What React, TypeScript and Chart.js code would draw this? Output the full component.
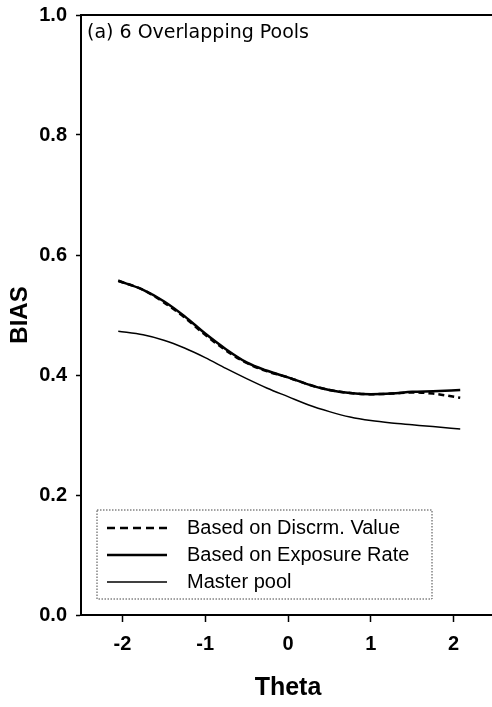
import React, { useEffect, useRef } from "react";
import { Chart, registerables } from "chart.js";

Chart.register(...registerables);

const theta = [-2.05, -1.75, -1.5, -1.25, -1, -0.75, -0.5, -0.25, 0, 0.25, 0.5, 0.75, 1, 1.25, 1.5, 1.75, 2.08];
const discrimBias = [0.557, 0.542, 0.521, 0.496, 0.467, 0.441, 0.42, 0.406, 0.396, 0.384, 0.375, 0.37, 0.368, 0.369, 0.371, 0.369, 0.362];
const exposureBias = [0.557, 0.542, 0.523, 0.498, 0.469, 0.443, 0.421, 0.407, 0.396, 0.384, 0.375, 0.37, 0.368, 0.369, 0.372, 0.373, 0.375];
const masterBias = [0.473, 0.467, 0.458, 0.445, 0.429, 0.411, 0.394, 0.378, 0.364, 0.35, 0.339, 0.33, 0.324, 0.32, 0.317, 0.314, 0.31];
const xTicks = [-2, -1, 0, 1, 2];
const seriesLabels = ["Based on Discrm. Value", "Based on Exposure Rate", "Master pool"];
const panelTitle = "(a) 6 Overlapping Pools";

const toPoints = (ys: number[]) => ys.map((y, i) => ({ x: theta[i], y }));

const decorPlugin = {
  id: "decor",
  afterDraw(chart: any) {
    const { ctx, chartArea } = chart;
    ctx.save();
    ctx.strokeStyle = "#000";
    ctx.lineWidth = 2;
    ctx.beginPath();
    ctx.moveTo(chartArea.left, chartArea.top);
    ctx.lineTo(chartArea.right, chartArea.top);
    ctx.stroke();
    ctx.fillStyle = "#000";
    ctx.font = "19px 'DejaVu Sans'";
    ctx.textBaseline = "middle";
    ctx.textAlign = "left";
    ctx.fillText(panelTitle, chartArea.left + 6, chartArea.top + 18);
    const bx = chartArea.left + 16, by = chartArea.top + 495, bw = 335, bh = 89;
    ctx.setLineDash([1.5, 1.5]);
    ctx.lineWidth = 1;
    ctx.strokeStyle = "#444";
    ctx.strokeRect(bx, by, bw, bh);
    ctx.setLineDash([]);
    const rows = [by + 18, by + 45, by + 72];
    chart.data.datasets.forEach((ds: any, i: number) => {
      const y = rows[i];
      ctx.strokeStyle = "#000";
      ctx.lineWidth = ds.borderWidth;
      ctx.setLineDash(ds.borderDash && ds.borderDash.length ? [8, 5] : []);
      ctx.beginPath();
      ctx.moveTo(bx + 10, y);
      ctx.lineTo(bx + 70, y);
      ctx.stroke();
      ctx.setLineDash([]);
      ctx.fillStyle = "#000";
      ctx.font = "20px 'Liberation Sans'";
      ctx.fillText(ds.label, bx + 90, y);
    });
    ctx.restore();
  },
};

export default function App() {
  const ref = useRef<HTMLCanvasElement | null>(null);
  useEffect(() => {
    if (!ref.current) return;
    const chart = new Chart(ref.current, {
      type: "line",
      data: {
        datasets: [
          {
            label: seriesLabels[0],
            data: toPoints(discrimBias),
            borderColor: "#000",
            borderWidth: 2.5,
            borderDash: [6, 4],
            pointRadius: 0,
            cubicInterpolationMode: "monotone",
          },
          {
            label: seriesLabels[1],
            data: toPoints(exposureBias),
            borderColor: "#000",
            borderWidth: 2.5,
            pointRadius: 0,
            cubicInterpolationMode: "monotone",
          },
          {
            label: seriesLabels[2],
            data: toPoints(masterBias),
            borderColor: "#000",
            borderWidth: 1.5,
            pointRadius: 0,
            cubicInterpolationMode: "monotone",
          },
        ],
      },
      options: {
        responsive: false,
        animation: false,
        layout: { padding: { top: 15, right: 5, left: 0, bottom: 0 } },
        plugins: { legend: { display: false }, tooltip: { enabled: false } },
        scales: {
          x: {
            type: "linear",
            min: -2.5,
            max: 2.5,
            afterBuildTicks: (s: any) => {
              s.ticks = xTicks.map((v) => ({ value: v }));
            },
            afterFit: (s: any) => {
              s.height = 92;
              s.paddingLeft = 0;
              s.paddingRight = 0;
            },
            grid: { drawOnChartArea: false, tickLength: 7, color: "#000", tickWidth: 1.5 },
            border: { display: true, color: "#000", width: 2 },
            ticks: {
              color: "#000",
              padding: 10,
              font: { family: "'Liberation Sans'", size: 20, weight: "bold" },
              callback: (v: any) => String(v),
            },
            title: {
              display: true,
              text: "Theta",
              color: "#000",
              font: { family: "'Liberation Sans'", size: 25, weight: "bold" },
              padding: { top: 0, bottom: 4 },
            },
          },
          y: {
            min: 0,
            max: 1,
            ticks: {
              stepSize: 0.2,
              color: "#000",
              padding: 9,
              font: { family: "'Liberation Sans'", size: 20, weight: "bold" },
              callback: (v: any) => Number(v).toFixed(1),
            },
            afterFit: (s: any) => {
              s.width = 81;
              s.paddingTop = 0;
              s.paddingBottom = 0;
            },
            grid: { drawOnChartArea: false, tickLength: 5, color: "#000", tickWidth: 1.5 },
            border: { display: true, color: "#000", width: 2 },
            title: {
              display: true,
              text: "BIAS",
              color: "#000",
              font: { family: "'Liberation Sans'", size: 24, weight: "bold" },
              padding: { top: 6, bottom: 0 },
            },
          },
        },
      },
      plugins: [decorPlugin],
    } as any);
    return () => chart.destroy();
  }, []);
  return (
    <div style={{ position: "absolute", left: 0, top: 0, width: 492, height: 707, overflow: "hidden", background: "#fff" }}>
      <canvas ref={ref} width={500} height={707} style={{ display: "block" }} />
    </div>
  );
}
